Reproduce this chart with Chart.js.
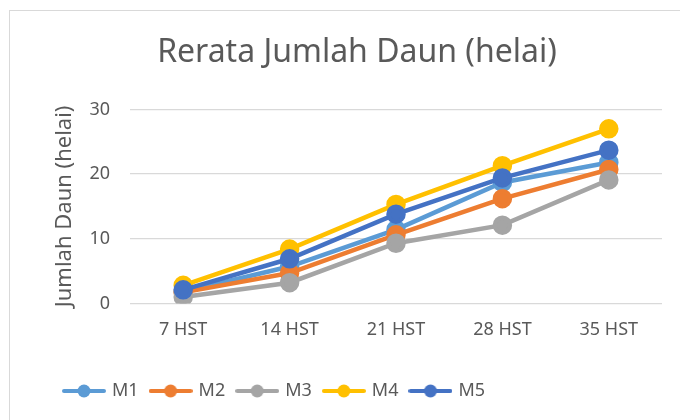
<!DOCTYPE html>
<html>
<head>
<meta charset="utf-8">
<script src="https://cdn.jsdelivr.net/npm/chart.js@4.4.0/dist/chart.umd.min.js"></script>
<style>
    html, body { margin: 0; padding: 0; background: #fff; }
    #wrap { position: relative; width: 680px; height: 420px; overflow: hidden; }
    #frame { position: absolute; left: 9px; top: 10px; width: 720px; height: 460px; border: 1px solid #d9d9d9; }
    #chart { position: absolute; left: 0; top: 0; }
</style>
</head>
<body>
<div id="wrap">
    <div id="frame"></div>
    <canvas id="chart" width="680" height="420"></canvas>
</div>
<script>
// Data
const categories = ["7 HST", "14 HST", "21 HST", "28 HST", "35 HST"];
const seriesNames = ["M1", "M2", "M3", "M4", "M5"];
const m1 = [1.8, 5.7, 11.4, 18.7, 21.8];
const m2 = [1.7, 4.7, 10.6, 16.2, 20.7];
const m3 = [1.0, 3.2, 9.3, 12.1, 19.1];
const m4 = [2.8, 8.4, 15.3, 21.3, 27.0];
const m5 = [2.1, 6.9, 13.8, 19.4, 23.7];
const yTicks = [0, 10, 20, 30];
const colors = ["#5B9BD5", "#ED7D31", "#A5A5A5", "#FFC000", "#4472C4"];

const textColor = "#595959";
const fontFamily = "'Noto Sans', 'Open Sans', sans-serif";

// legend marker: short line with a dot in the middle
function legendMarker(color) {
    const c = document.createElement('canvas');
    c.width = 44;
    c.height = 16;
    const g = c.getContext('2d');
    g.strokeStyle = color;
    g.lineWidth = 4;
    g.lineCap = 'round';
    g.beginPath();
    g.moveTo(2, 8);
    g.lineTo(42, 8);
    g.stroke();
    g.fillStyle = color;
    g.beginPath();
    g.arc(22, 8, 6.5, 0, Math.PI * 2);
    g.fill();
    return c;
}

const allSeries = [m1, m2, m3, m4, m5];
const datasets = allSeries.map(function(values, i) {
    return {
        label: seriesNames[i],
        data: values,
        borderColor: colors[i],
        backgroundColor: colors[i],
        pointBackgroundColor: colors[i],
        pointBorderColor: colors[i],
        borderWidth: 4.5,
        pointRadius: 7.5,
        pointHoverRadius: 7.5,
        pointStyle: 'circle',
        tension: 0,
        order: allSeries.length - i   // later series drawn on top, like Excel
    };
});

new Chart(document.getElementById('chart'), {
    type: 'line',
    data: {
        labels: categories,
        datasets: datasets
    },
    options: {
        responsive: false,
        animation: false,
        layout: {
            padding: { left: 52, right: 18, top: 0, bottom: 10 }
        },
        plugins: {
            title: {
                display: true,
                text: 'Rerata Jumlah Daun (helai)',
                color: textColor,
                font: { family: fontFamily, size: 32, weight: 'normal' },
                padding: { top: 34, bottom: 37 }
            },
            legend: {
                position: 'bottom',
                align: 'start',
                sort: function(a, b) { return a.datasetIndex - b.datasetIndex; },
                labels: {
                    color: textColor,
                    font: { family: fontFamily, size: 18 },
                    usePointStyle: true,
                    pointStyleWidth: 38,
                    padding: 13,
                    generateLabels: function(chart) {
                        return chart.data.datasets.map(function(ds, i) {
                            return {
                                text: ds.label,
                                fillStyle: ds.borderColor,
                                strokeStyle: ds.borderColor,
                                lineWidth: 0,
                                pointStyle: legendMarker(ds.borderColor),
                                fontColor: textColor,
                                datasetIndex: i,
                                hidden: false
                            };
                        });
                    }
                }
            },
            tooltip: { enabled: false }
        },
        scales: {
            x: {
                offset: true,
                afterFit: function(scale) { scale.height += 12; },
                grid: { display: false, drawTicks: false },
                border: { display: false },
                ticks: {
                    color: textColor,
                    font: { family: fontFamily, size: 18 },
                    padding: 16
                }
            },
            y: {
                min: 0,
                max: 30,
                afterFit: function(scale) { scale.width = 78; },
                afterBuildTicks: function(scale) {
                    scale.ticks = yTicks.map(function(v) { return { value: v }; });
                },
                grid: { color: '#d9d9d9', lineWidth: 1.3, drawTicks: false },
                border: { display: false },
                ticks: {
                    color: textColor,
                    font: { family: fontFamily, size: 18 },
                    padding: 20
                },
                title: {
                    display: true,
                    text: 'Jumlah Daun (helai)',
                    color: textColor,
                    font: { family: fontFamily, size: 22 },
                    padding: 0
                }
            }
        }
    }
});
</script>
</body>
</html>
